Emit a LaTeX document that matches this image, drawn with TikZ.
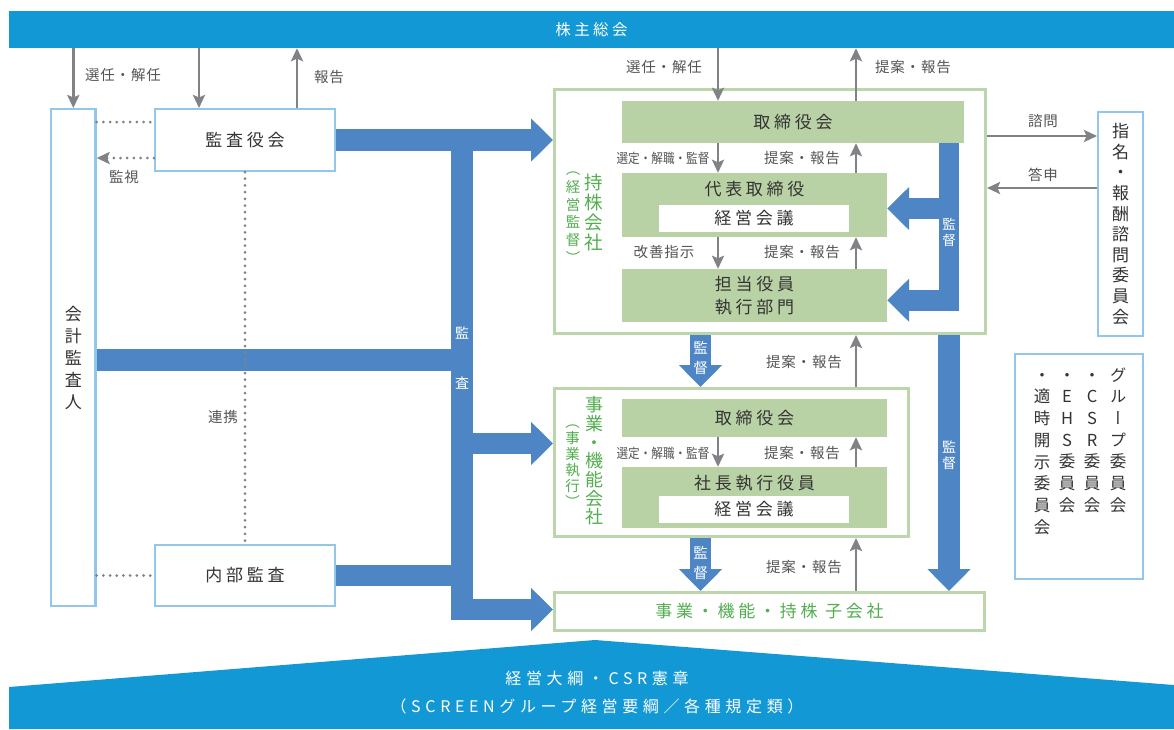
\documentclass[tikz,border=0pt]{standalone}
\usepackage{fontspec}
\usepackage{graphicx}
\usetikzlibrary{arrows.meta}
\setmainfont{Noto Sans CJK JP}
\newfontfamily\jpn{Noto Sans CJK JP}
\newfontfamily\jpw[LetterSpace=22]{Noto Sans CJK JP}
\newfontfamily\jpl[LetterSpace=6]{Noto Sans CJK JP}
\newfontfamily\jpb[LetterSpace=29]{Noto Sans CJK JP}
\newfontfamily\jpv[RawFeature=+vert]{Noto Sans CJK JP}
\definecolor{topblue}{HTML}{1398D6}
\definecolor{barblue}{HTML}{4E86C5}
\definecolor{lblue}{HTML}{94C6EA}
\definecolor{gfill}{HTML}{B9D2A5}
\definecolor{gline}{HTML}{BDD5AA}
\definecolor{gtext}{HTML}{52AE4F}
\definecolor{arrgray}{HTML}{808285}
\definecolor{txt}{HTML}{333333}
\definecolor{lbltxt}{HTML}{555555}
\newcommand{\fs}[2]{\fontsize{#1}{#2}\selectfont}
\newcommand{\ph}{\vphantom{会}}
\tikzset{
  lbox/.style={draw=lblue, line width=2.4pt, fill=white, inner sep=0pt, text=txt},
  obox/.style={draw=gline, line width=2.6pt, fill=white, inner sep=0pt},
  gbox/.style={fill=gfill, inner sep=0pt, text=txt, font=\jpw\fs{17}{23}, align=center},
  wbox/.style={fill=white, inner sep=0pt, text=txt, font=\jpw\fs{17}{20}},
  garrow/.style={draw=arrgray, line width=2.6pt, -{Stealth[length=13pt,width=12pt,inset=2.5pt]}},
  dotline/.style={draw=arrgray, line width=3pt, line cap=round, dash pattern=on 0pt off 6.7pt},
  bline/.style={draw=barblue, line width=21.5pt},
  barrow/.style={bline, -{Triangle[length=22pt,width=42pt]}},
  lbl/.style={text=lbltxt, font=\jpl\fs{14.5}{17}, inner sep=0pt},
  slbl/.style={text=lbltxt, font=\jpn\fs{13.5}{16}, inner sep=0pt},
  vtxt/.style={align=center, inner sep=0pt},
  wtxt/.style={text=white, align=center, inner sep=0pt},
}
\begin{document}
\begin{tikzpicture}[x=1pt,y=-1pt]
\useasboundingbox (0,0) rectangle (1174,729);
\fill[white] (0,0) rectangle (1174,729);

% top bar
\node[fill=topblue, minimum width=1165pt, minimum height=37pt, inner sep=0pt, text=white, font=\jpw\fs{15.5}{18}] (top) at (591.5,29.5) {株主総会};

% left side boxes
\node[lbox, minimum width=44.3pt, minimum height=496.6pt, align=center, font=\jpv\fs{17}{22}] (kaikei) at (73.3,357.5) {会\\計\\監\\査\\人};
\node[lbox, minimum width=179.6pt, minimum height=61.6pt, font=\jpw\fs{17}{20}] (kansa) at (245,140) {監査役会};
\node[lbox, minimum width=179.6pt, minimum height=60.6pt, font=\jpw\fs{17}{20}] (naibu) at (245,575.5) {内部監査};

% holding company
\node[obox, minimum width=431.4pt, minimum height=244.4pt] (hold) at (770,211.5) {};
\node[gbox, minimum width=342pt, minimum height=42pt] (tori1) at (793,122) {取締役会};
\node[gbox, minimum width=265pt, minimum height=64pt] (daihyo) at (754.5,205) {};
\node[text=txt, font=\jpw\fs{17}{20}, inner sep=0pt] (daihyoT) at (754.5,189) {代表取締役};
\node[wbox, minimum width=190pt, minimum height=27pt] (keiei1) at (754,218.5) {経営会議};
\node[gbox, minimum width=265pt, minimum height=53pt] (tanto) at (754.5,295.5) {担当役員\\執行部門};
\node[vtxt, text=gtext, font=\jpv\fs{18.5}{20.3}] (holdL) at (594,212.5) {持\\株\\会\\社};
\node[vtxt, text=gtext, font=\jpv\fs{14.5}{17.7}] (holdS) at (573,213.5) {\ph（\\経\\営\\監\\督\\）\ph};

% operating company
\node[obox, minimum width=354.4pt, minimum height=148.4pt] (jigyo) at (731.5,462.5) {};
\node[gbox, minimum width=265pt, minimum height=38pt] (tori2) at (754.5,418) {取締役会};
\node[gbox, minimum width=265pt, minimum height=61pt] (shacho) at (754.5,497.5) {};
\node[text=txt, font=\jpw\fs{17}{20}, inner sep=0pt] (shachoT) at (754.5,483) {社長執行役員};
\node[wbox, minimum width=190pt, minimum height=27pt] (keiei2) at (754,509.5) {経営会議};
\node[vtxt, text=gtext, font=\jpv\fs{18}{18.7}] (jigyoL) at (594,461) {事\\業\\・\\機\\能\\会\\社};
\node[vtxt, text=gtext, font=\jpv\fs{14.5}{16}] (jigyoS) at (572.5,462) {\ph（\\事\\業\\執\\行\\）\ph};

% subsidiaries
\node[obox, minimum width=430.4pt, minimum height=38.4pt, text=gtext, font=\jpw\fs{17}{20}] (ko) at (769.5,611.5) {事業・機能・持株 子会社};

% right boxes
\node[lbox, minimum width=44.6pt, minimum height=223.6pt, align=center, font=\jpv\fs{17}{20.6}] (shimei) at (1120.5,224) {指\\名\\・\\報\\酬\\諮\\問\\委\\員\\会};
\node[lbox, minimum width=127.6pt, minimum height=224.6pt] (iinkai) at (1079,466.5) {};
\node[vtxt, text=txt, font=\jpv\fs{16.5}{21.7}] (c1) at (1118,440) {\ph グ\\ル\\ー\\プ\\委\\員\\会};
\node[vtxt, text=txt, font=\jpv\fs{16.5}{21.7}] (c2) at (1092,440) {\ph・\\C\\S\\R\\委\\員\\会};
\node[vtxt, text=txt, font=\jpv\fs{16.5}{21.7}] (c3) at (1067,440) {\ph・\\E\\H\\S\\委\\員\\会};
\node[vtxt, text=txt, font=\jpv\fs{16.5}{21.7}] (c4) at (1042,451) {\ph・\\適\\時\\開\\示\\委\\員\\会};

% blue audit bus
\coordinate (busT) at (462,130);
\coordinate (busB) at (462,620);
\coordinate (busK) at (462,360);
\coordinate (busJ) at (462,443.5);
\coordinate (busS) at (451.25,609.5);
\draw[bline] (busT) -- (busB);
\draw[barrow] (kansa.east) -- (kansa.east -| hold.west);
\draw[bline] (kaikei.east |- busK) -- (busK);
\draw[bline] (naibu.east) -- (naibu.east -| busT);
\draw[barrow] (busJ) -- (busJ -| jigyo.west);
\draw[barrow] (busS) -- (busS -| ko.west);
\node[wtxt, font=\jpn\fs{14}{16}] (bus1) at (462,333) {監};
\node[wtxt, font=\jpn\fs{14}{16}] (bus2) at (462,383) {査};

% supervision bracket in holding
\coordinate (k1) at (949,143);
\coordinate (k2) at (949,311);
\coordinate (k3) at (959,208.5);
\coordinate (k4) at (959,300.25);
\draw[bline, line width=20.5pt] (k1) -- (k2);
\draw[barrow] (k3) -- (k3 -| daihyo.east);
\draw[barrow] (k4) -- (k4 -| tanto.east);
\node[wtxt, font=\jpv\fs{13.5}{15.5}] (kan1) at (949,232.5) {監\\督};

% right long supervision arrow
\coordinate (kx) at (949,0);
\draw[barrow] (hold.south -| kx) -- (ko.north -| kx);
\node[wtxt, font=\jpv\fs{14}{16}] (kan2) at (949,455) {監\\督};

% supervision between companies
\coordinate (mx) at (700.5,0);
\draw[barrow] (hold.south -| mx) -- (jigyo.north -| mx);
\draw[barrow] (jigyo.south -| mx) -- (ko.north -| mx);
\node[wtxt, font=\jpv\fs{14.5}{20}] (kan3) at (700.5,358) {監\\督};
\node[wtxt, font=\jpv\fs{14.5}{20}] (kan4) at (700.5,563) {監\\督};

% grey arrows
\coordinate (x199) at (199,0);
\coordinate (x297) at (297,0);
\coordinate (x718) at (718,0);
\coordinate (x856) at (856,0);
\coordinate (y136) at (0,136);
\coordinate (y188) at (0,188);
\draw[garrow] (top.south -| kaikei.north) -- (kaikei.north);
\draw[garrow] (top.south -| x199) -- (kansa.north -| x199);
\draw[garrow] (kansa.north -| x297) -- (top.south -| x297);
\draw[garrow] (top.south -| x718) -- (tori1.north -| x718);
\draw[garrow] (tori1.north -| x856) -- (top.south -| x856);
\draw[garrow] (tori1.south -| x718) -- (daihyo.north -| x718);
\draw[garrow] (daihyo.north -| x856) -- (tori1.south -| x856);
\draw[garrow] (daihyo.south -| x718) -- (tanto.north -| x718);
\draw[garrow] (tanto.north -| x856) -- (daihyo.south -| x856);
\draw[garrow] (jigyo.north -| x856) -- (hold.south -| x856);
\draw[garrow] (tori2.south -| x718) -- (shacho.north -| x718);
\draw[garrow] (shacho.north -| x856) -- (tori2.south -| x856);
\draw[garrow] (ko.north -| x856) -- (jigyo.south -| x856);
\draw[garrow] (hold.east |- y136) -- (shimei.west |- y136);
\draw[garrow] (shimei.west |- y188) -- (hold.east |- y188);

% dotted links
\coordinate (y122) at (0,122);
\coordinate (y158) at (0,158);
\draw[dotline] (kaikei.east |- y122) -- (kansa.west |- y122);
\draw[dotline, -{Stealth[length=13pt,width=12pt,inset=2.5pt]}] (kansa.west |- y158) -- (kaikei.east |- y158);
\draw[dotline] (kansa.south) -- (naibu.north);
\draw[dotline] (kaikei.east |- naibu.west) -- (naibu.west);

% labels
\node[lbl] (l1) at (123,75) {選任・解任};
\node[lbl] (l2) at (329,77) {報告};
\node[lbl] (l3) at (124,177) {監視};
\node[lbl] (l4) at (223,417) {連携};
\node[lbl] (l5) at (664,67) {選任・解任};
\node[lbl] (l6) at (913,67) {提案・報告};
\node[slbl] (l7) at (663,158) {\scalebox{0.86}[1]{選定・解職・監督}};
\node[lbl] (l8) at (802,158) {提案・報告};
\node[lbl] (l9) at (664,252) {改善指示};
\node[lbl] (l10) at (802,252) {提案・報告};
\node[lbl] (l11) at (804,362) {提案・報告};
\node[slbl] (l12) at (663,453) {\scalebox{0.86}[1]{選定・解職・監督}};
\node[lbl] (l13) at (802,453) {提案・報告};
\node[lbl] (l14) at (804,567) {提案・報告};
\node[lbl] (l15) at (1043,121) {諮問};
\node[lbl] (l16) at (1043,175) {答申};

% bottom foundation
\fill[topblue] (9,687) -- (595,640) -- (1174,685) -- (1174,729) -- (9,729) -- cycle;
\node[text=white, font=\jpb\fs{16}{20}, inner sep=0pt] (base1) at (597,678) {経営大綱・CSR憲章};
\node[text=white, font=\jpb\fs{16}{20}, inner sep=0pt] (base2) at (597,706) {（SCREENグループ経営要綱／各種規定類）};
\end{tikzpicture}
\end{document}
